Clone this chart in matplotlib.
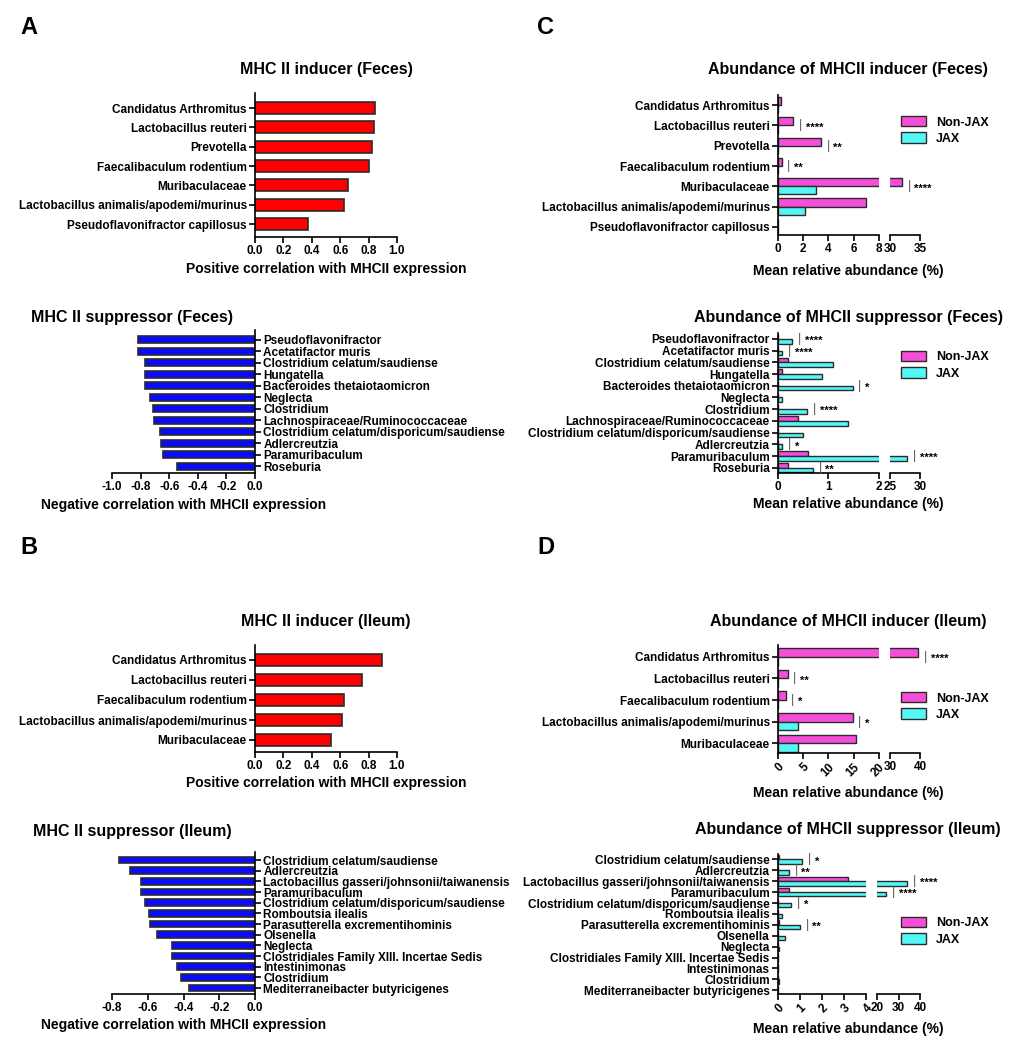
import matplotlib
matplotlib.use('Agg')
import matplotlib.pyplot as plt
from matplotlib.patches import Patch

plt.rcParams['font.family'] = ['Liberation Sans', 'DejaVu Sans']
plt.rcParams['font.weight'] = 'bold'
plt.rcParams['axes.labelweight'] = 'bold'

# ---- panel A: feces correlations ----
feces_ind_names = ['Candidatus Arthromitus', 'Lactobacillus reuteri', 'Prevotella',
                   'Faecalibaculum rodentium', 'Muribaculaceae',
                   'Lactobacillus animalis/apodemi/murinus', 'Pseudoflavonifractor capillosus']
feces_ind_corr = [0.848, 0.836, 0.826, 0.805, 0.656, 0.625, 0.375]

feces_sup_names = ['Pseudoflavonifractor', 'Acetatifactor muris', 'Clostridium celatum/saudiense',
                   'Hungatella', 'Bacteroides thetaiotaomicron', 'Neglecta', 'Clostridium',
                   'Lachnospiraceae/Ruminococcaceae', 'Clostridium celatum/disporicum/saudiense',
                   'Adlercreutzia', 'Paramuribaculum', 'Roseburia']
feces_sup_corr = [-0.818, -0.818, -0.766, -0.766, -0.766, -0.731, -0.712, -0.703,
                  -0.666, -0.656, -0.645, -0.544]

# ---- panel B: ileum correlations ----
ileum_ind_names = ['Candidatus Arthromitus', 'Lactobacillus reuteri', 'Faecalibaculum rodentium',
                   'Lactobacillus animalis/apodemi/murinus', 'Muribaculaceae']
ileum_ind_corr = [0.894, 0.753, 0.624, 0.614, 0.534]

ileum_sup_names = ['Clostridium celatum/saudiense', 'Adlercreutzia',
                   'Lactobacillus gasseri/johnsonii/taiwanensis', 'Paramuribaculum',
                   'Clostridium celatum/disporicum/saudiense', 'Romboutsia ilealis',
                   'Parasutterella excrementihominis', 'Olsenella', 'Neglecta',
                   'Clostridiales Family XIII. Incertae Sedis', 'Intestinimonas', 'Clostridium',
                   'Mediterraneibacter butyricigenes']
ileum_sup_corr = [-0.759, -0.697, -0.636, -0.636, -0.618, -0.595, -0.585, -0.548,
                  -0.467, -0.467, -0.438, -0.416, -0.367]

# ---- panel C: feces abundance ----
c_ind_nonjax = [0.25, 1.2, 3.4, 0.3, 32.0, 7.0, 0.0]
c_ind_jax = [0.0, 0.0, 0.0, 0.0, 3.0, 2.15, 0.0]
c_ind_sig = ['', '****', '**', '**', '****', '', '']

c_sup_nonjax = [0.0, 0.0, 0.19, 0.08, 0.0, 0.0, 0.0, 0.39, 0.0, 0.0, 0.59, 0.19]
c_sup_jax = [0.28, 0.08, 1.08, 0.88, 1.48, 0.08, 0.58, 1.38, 0.49, 0.08, 27.9, 0.69]
c_sup_sig = ['****', '****', '', '', '*', '', '****', '', '', '*', '****', '**']

# ---- panel D: ileum abundance ----
d_ind_nonjax = [39.4, 1.9, 1.5, 14.8, 15.4]
d_ind_jax = [0.0, 0.0, 0.0, 3.9, 4.0]
d_ind_sig = ['****', '**', '*', '*', '']

d_sup_nonjax = [0.03, 0.0, 3.2, 0.5, 0.0, 0.0, 0.03, 0.0, 0.0, 0.0, 0.0, 0.0, 0.0]
d_sup_jax = [1.1, 0.5, 34.0, 24.2, 0.6, 0.2, 1.0, 0.3, 0.05, 0.0, 0.0, 0.05, 0.0]
d_sup_sig = ['*', '**', '****', '****', '*', '', '**', '', '', '', '', '', '']

RED = '#FF0000'
BLUE = '#0A0AFF'
PINK = '#F54FDA'
CYAN = '#55F6F6'
EDGE = '#2b2b2b'

W, H = 1020, 1050
fig = plt.figure(figsize=(W / 100, H / 100), dpi=100)


def box(x0, y0, x1, y1):
    # pixel box, origin top-left -> figure rect
    return [x0 / W, 1 - y1 / H, (x1 - x0) / W, (y1 - y0) / H]


def ftext(x, y, s, size, **kw):
    fig.text(x / W, 1 - y / H, s, fontsize=size, fontweight='bold', **kw)


def style(ax):
    for sp in ['top', 'right', 'left', 'bottom']:
        ax.spines[sp].set_visible(False)
    ax.tick_params(axis='both', labelsize=8.5, width=1.2, length=4, pad=2)


def corr_panel(rect, names, vals, color, xlim, xticks, xlabel, pads, negative=False):
    ax = fig.add_axes(rect)
    y = list(range(len(names)))
    ax.barh(y, vals, height=0.62, color=color, edgecolor=EDGE, linewidth=1.2)
    ax.set_ylim(len(names) - 1 + pads[1], -pads[0])
    ax.set_xlim(*xlim)
    ax.set_xticks(xticks)
    ax.set_xticklabels([f'{t:.1f}' for t in xticks])
    style(ax)
    ax.spines['bottom'].set_visible(True)
    ax.spines['bottom'].set_linewidth(1.2)
    ax.set_yticks(y)
    ax.set_yticklabels(names)
    if negative:
        ax.yaxis.tick_right()
        ax.spines['right'].set_visible(True)
        ax.spines['right'].set_linewidth(1.2)
    else:
        ax.spines['left'].set_visible(True)
        ax.spines['left'].set_linewidth(1.2)
    ax.set_xlabel(xlabel, fontsize=10, labelpad=3)
    return ax


def abund_panel(x0, xb, x1, y0, y1, names, nonjax, jax, sig, llim, lticks,
                rlim, rticks, pads, rot=False):
    axl = fig.add_axes(box(x0, y0, xb, y1))
    axr = fig.add_axes(box(xb + (10 if x1 - xb < 40 else 11), y0, x1, y1))
    y = list(range(len(names)))
    for ax in (axl, axr):
        ax.barh([i - 0.2 for i in y], nonjax, height=0.4, color=PINK,
                edgecolor=EDGE, linewidth=1)
        ax.barh([i + 0.2 for i in y], jax, height=0.4, color=CYAN,
                edgecolor=EDGE, linewidth=1)
        ax.set_ylim(len(names) - 1 + pads[1], -pads[0])
        style(ax)
        ax.spines['bottom'].set_visible(True)
        ax.spines['bottom'].set_linewidth(1.2)
    axl.set_xlim(*llim)
    axr.set_xlim(*rlim)
    axl.set_xticks(lticks)
    axr.set_xticks(rticks)
    axl.set_xticklabels([str(t) for t in lticks])
    axr.set_xticklabels([str(t) for t in rticks])
    if rot:
        for lab in axl.get_xticklabels():
            lab.set_rotation(45)
            lab.set_ha('right')
            lab.set_rotation_mode('anchor')
    axl.spines['left'].set_visible(True)
    axl.spines['left'].set_linewidth(1.2)
    axl.set_yticks(y)
    axl.set_yticklabels(names)
    axr.set_yticks([])
    # significance marks
    for i, s in enumerate(sig):
        if not s:
            continue
        top = max(nonjax[i], jax[i])
        ax = axr if top > llim[1] else axl
        ax.annotate('|', xy=(top, i), xytext=(4, 0), textcoords='offset points',
                    va='center', ha='left', fontsize=9, fontweight='normal',
                    color='#555555', annotation_clip=False)
        ax.annotate(s, xy=(top, i), xytext=(9, -1.5), textcoords='offset points',
                    va='center', ha='left', fontsize=8, annotation_clip=False)
    return axl, axr


# panel letters
for letter, (px, py) in zip('ACBD', [(20, 34), (537, 34), (20, 554), (537, 554)]):
    ftext(px, py, letter, 17)

# A
corr_panel(box(255, 93, 397, 237), feces_ind_names, feces_ind_corr, RED, (0, 1.0),
           [0, 0.2, 0.4, 0.6, 0.8, 1.0], 'Positive correlation with MHCII expression',
           (0.78, 0.67))
ftext(326, 74, 'MHC II inducer (Feces)', 11.5, ha='center')
corr_panel(box(112, 330, 255, 473), feces_sup_names, feces_sup_corr, BLUE, (-1.0, 0),
           [-1.0, -0.8, -0.6, -0.4, -0.2, 0.0], 'Negative correlation with MHCII expression',
           (0.85, 0.6), negative=True)
ftext(132, 322, 'MHC II suppressor (Feces)', 11.5, ha='center')

# B
corr_panel(box(255, 645, 397, 752), ileum_ind_names, ileum_ind_corr, RED, (0, 1.0),
           [0, 0.2, 0.4, 0.6, 0.8, 1.0], 'Positive correlation with MHCII expression',
           (0.75, 0.6))
ftext(326, 626, 'MHC II inducer (Ileum)', 11.5, ha='center')
corr_panel(box(112, 852, 255, 994), ileum_sup_names, ileum_sup_corr, BLUE, (-0.8, 0),
           [-0.8, -0.6, -0.4, -0.2, 0.0], 'Negative correlation with MHCII expression',
           (0.75, 0.55), negative=True)
ftext(132, 836, 'MHC II suppressor (Ileum)', 11.5, ha='center')

# C
abund_panel(778, 879, 920, 95, 235, feces_ind_names, c_ind_nonjax, c_ind_jax, c_ind_sig,
            (0, 8), [0, 2, 4, 6, 8], (30, 35), [30, 35], (0.5, 0.4))
ftext(848, 74, 'Abundance of MHCII inducer (Feces)', 11.5, ha='center')
ftext(848, 275, 'Mean relative abundance (%)', 10, ha='center')

abund_panel(778, 879, 920, 333, 473, feces_sup_names, c_sup_nonjax, c_sup_jax, c_sup_sig,
            (0, 2), [0, 1, 2], (25, 30), [25, 30], (0.5, 0.45))
ftext(848, 322, 'Abundance of MHCII suppressor (Feces)', 11.5, ha='center')
ftext(848, 508, 'Mean relative abundance (%)', 10, ha='center')

# D
abund_panel(778, 879, 920, 645, 753, ileum_ind_names, d_ind_nonjax, d_ind_jax, d_ind_sig,
            (0, 20), [0, 5, 10, 15, 20], (30, 40), [30, 40], (0.55, 0.45), rot=True)
ftext(848, 626, 'Abundance of MHCII inducer (Ileum)', 11.5, ha='center')
ftext(848, 797, 'Mean relative abundance (%)', 10, ha='center')

abund_panel(778, 866, 920, 854, 994, ileum_sup_names, d_sup_nonjax, d_sup_jax, d_sup_sig,
            (0, 4), [0, 1, 2, 3, 4], (20, 40), [20, 30, 40], (0.5, 0.35), rot=True)
ftext(848, 834, 'Abundance of MHCII suppressor (Ileum)', 11.5, ha='center')
ftext(848, 1033, 'Mean relative abundance (%)', 10, ha='center')

# legends
handles = [Patch(facecolor=PINK, edgecolor=EDGE, linewidth=1, label='Non-JAX'),
           Patch(facecolor=CYAN, edgecolor=EDGE, linewidth=1, label='JAX')]
for ly in [116, 351, 692, 917]:
    fig.legend(handles=handles, loc='upper left', bbox_to_anchor=(901 / W, 1 - ly / H),
               frameon=False, fontsize=9, handlelength=2.0, handleheight=0.9,
               handletextpad=0.8, labelspacing=0.3, borderaxespad=0, borderpad=0)

fig.savefig('out.png', dpi=100)
